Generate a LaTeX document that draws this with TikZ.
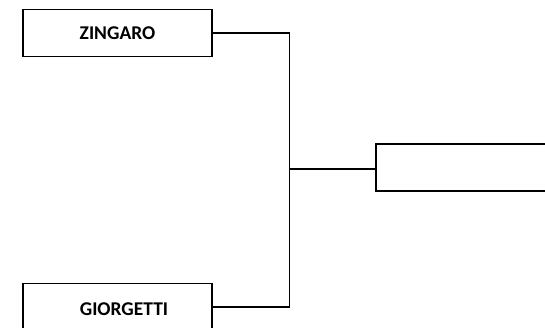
\documentclass[tikz,border=0pt]{standalone}
\usepackage{fontspec}
\setmainfont{Carlito}
\begin{document}
\begin{tikzpicture}[x=1pt,y=-1pt,
  lbl/.style={font=\bfseries\fontsize{19.5}{22}\selectfont},
  box/.style={draw,line width=1.8pt,minimum width=189pt,minimum height=47pt,inner sep=0pt,lbl},
  conn/.style={line width=1.1pt}]
\useasboundingbox (0,0) rectangle (545,328);
\clip (0,0) rectangle (545,328);
\node[box] (z) at (117.5,33) {ZINGARO};
\node[box] (g) at (117.5,307) {};
\node[lbl] (gt) at (124,309) {GIORGETTI};
\node[box,minimum width=200pt] (r) at (476,167.5) {};
\coordinate (j) at (289.5,169);
\draw[conn] (z.east) -| (j) |- (g.east);
\draw[conn] (j) -- (j -| r.west);
\end{tikzpicture}
\end{document}
